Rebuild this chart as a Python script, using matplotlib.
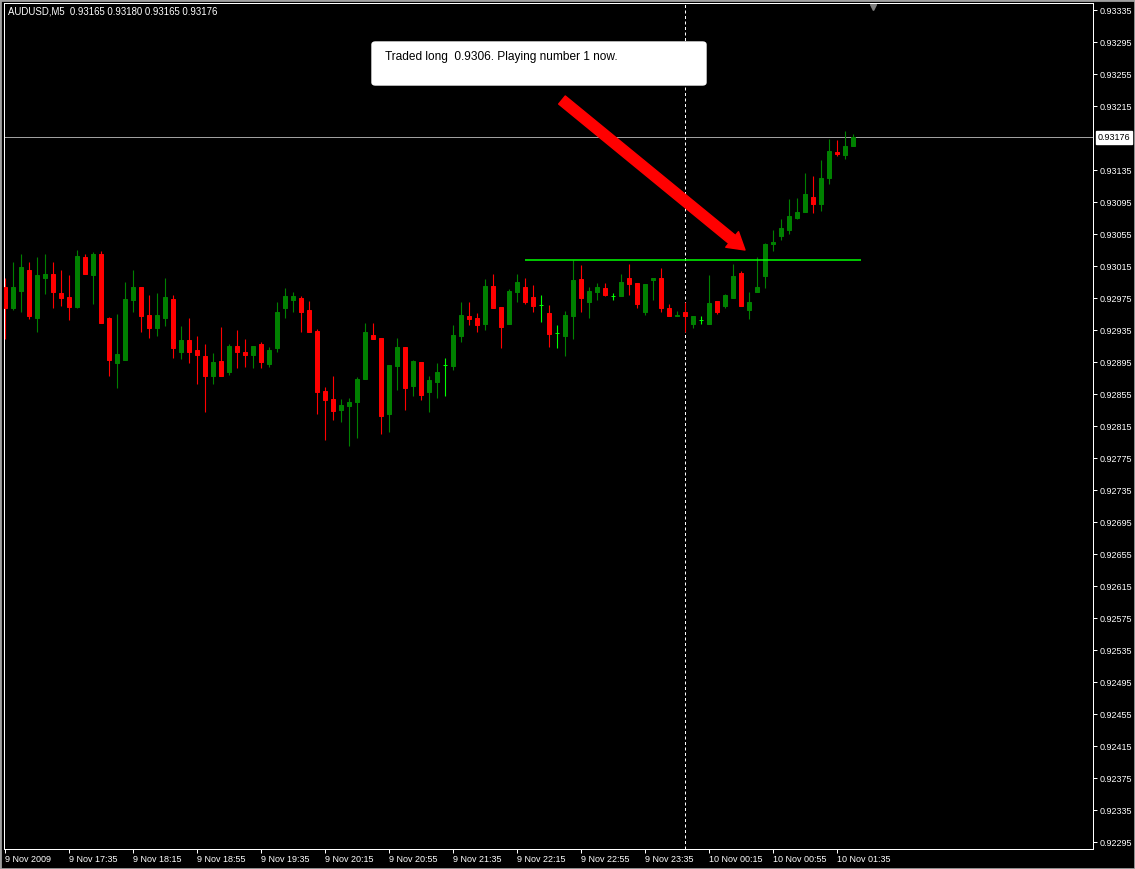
import matplotlib.pyplot as plt
from matplotlib.patches import FancyBboxPatch, Rectangle
from matplotlib.transforms import blended_transform_factory

# AUDUSD M5, 9 Nov 2009 16:55 .. 10 Nov 01:45
opens = [0.92989, 0.92963, 0.92984, 0.93010, 0.92950, 0.93000, 0.93005, 0.92981, 0.92976, 0.92964,
         0.93026, 0.93004, 0.93030, 0.92950, 0.92894, 0.92898, 0.92973, 0.92989, 0.92954, 0.92938,
         0.92950, 0.92974, 0.92907, 0.92923, 0.92910, 0.92903, 0.92878, 0.92896, 0.92882, 0.92915,
         0.92908, 0.92904, 0.92918, 0.92893, 0.92913, 0.92962, 0.92973, 0.92975, 0.92960, 0.92934,
         0.92859, 0.92849, 0.92835, 0.92840, 0.92845, 0.92874, 0.92929, 0.92925, 0.92830, 0.92890,
         0.92914, 0.92865, 0.92895, 0.92858, 0.92870, 0.92891, 0.92890, 0.92928, 0.92953, 0.92950,
         0.92942, 0.92990, 0.92964, 0.92942, 0.92983, 0.92989, 0.92976, 0.92966, 0.92956, 0.92931,
         0.92928, 0.92952, 0.92999, 0.92970, 0.92983, 0.92988, 0.92978, 0.92978, 0.93000, 0.92994,
         0.92958, 0.92997, 0.93000, 0.92963, 0.92953, 0.92958, 0.92942, 0.92947, 0.92942, 0.92971,
         0.92965, 0.92975, 0.93006, 0.92960, 0.92983, 0.93003, 0.93043, 0.93053, 0.93060, 0.93075,
         0.93083, 0.93101, 0.93092, 0.93125, 0.93158, 0.93154, 0.93165]
highs = [0.93000, 0.93020, 0.93030, 0.93020, 0.93026, 0.93030, 0.93020, 0.93010, 0.93004, 0.93035,
         0.93030, 0.93032, 0.93034, 0.92951, 0.92955, 0.92995, 0.93010, 0.92989, 0.92979, 0.92981,
         0.93000, 0.92979, 0.92940, 0.92950, 0.92928, 0.92918, 0.92906, 0.92939, 0.92918, 0.92935,
         0.92924, 0.92915, 0.92920, 0.92914, 0.92970, 0.92988, 0.92983, 0.92978, 0.92971, 0.92936,
         0.92864, 0.92878, 0.92849, 0.92850, 0.92876, 0.92944, 0.92944, 0.92925, 0.92891, 0.92925,
         0.92914, 0.92897, 0.92895, 0.92878, 0.92894, 0.92900, 0.92941, 0.92970, 0.92970, 0.92956,
         0.92999, 0.93005, 0.92964, 0.92986, 0.93005, 0.93000, 0.92991, 0.92979, 0.92966, 0.92941,
         0.92959, 0.93022, 0.93016, 0.92989, 0.92994, 0.92994, 0.92981, 0.93005, 0.93018, 0.92994,
         0.92993, 0.93000, 0.93013, 0.92968, 0.92959, 0.92970, 0.92953, 0.92952, 0.93004, 0.92971,
         0.92980, 0.93018, 0.93009, 0.92983, 0.93026, 0.93044, 0.93060, 0.93074, 0.93099, 0.93100,
         0.93131, 0.93128, 0.93148, 0.93174, 0.93173, 0.93184, 0.93180]
lows = [0.92924, 0.92960, 0.92958, 0.92949, 0.92932, 0.92980, 0.92963, 0.92965, 0.92948, 0.92963,
        0.93005, 0.92967, 0.92944, 0.92877, 0.92863, 0.92898, 0.92958, 0.92933, 0.92925, 0.92928,
        0.92940, 0.92900, 0.92899, 0.92894, 0.92867, 0.92832, 0.92867, 0.92877, 0.92879, 0.92887,
        0.92889, 0.92887, 0.92887, 0.92889, 0.92907, 0.92950, 0.92958, 0.92932, 0.92932, 0.92830,
        0.92798, 0.92822, 0.92820, 0.92790, 0.92800, 0.92874, 0.92924, 0.92805, 0.92807, 0.92860,
        0.92835, 0.92852, 0.92847, 0.92832, 0.92850, 0.92853, 0.92885, 0.92920, 0.92941, 0.92932,
        0.92935, 0.92963, 0.92912, 0.92942, 0.92970, 0.92967, 0.92957, 0.92945, 0.92914, 0.92913,
        0.92902, 0.92924, 0.92958, 0.92950, 0.92973, 0.92977, 0.92973, 0.92978, 0.92979, 0.92963,
        0.92954, 0.92973, 0.92957, 0.92952, 0.92953, 0.92932, 0.92937, 0.92942, 0.92942, 0.92955,
        0.92963, 0.92975, 0.92965, 0.92949, 0.92983, 0.92988, 0.93034, 0.93048, 0.93055, 0.93074,
        0.93082, 0.93081, 0.93084, 0.93118, 0.93152, 0.93149, 0.93165]
closes = [0.92963, 0.92989, 0.93014, 0.92953, 0.93004, 0.93005, 0.92983, 0.92975, 0.92964, 0.93027,
          0.93005, 0.93030, 0.92944, 0.92898, 0.92905, 0.92974, 0.92989, 0.92953, 0.92938, 0.92954,
          0.92976, 0.92912, 0.92923, 0.92907, 0.92904, 0.92877, 0.92895, 0.92877, 0.92915, 0.92907,
          0.92904, 0.92915, 0.92895, 0.92910, 0.92958, 0.92978, 0.92978, 0.92958, 0.92932, 0.92858,
          0.92848, 0.92834, 0.92841, 0.92845, 0.92874, 0.92932, 0.92924, 0.92828, 0.92891, 0.92914,
          0.92863, 0.92896, 0.92854, 0.92873, 0.92883, 0.92891, 0.92929, 0.92954, 0.92949, 0.92941,
          0.92990, 0.92963, 0.92939, 0.92984, 0.92995, 0.92970, 0.92965, 0.92966, 0.92930, 0.92931,
          0.92954, 0.92998, 0.92975, 0.92984, 0.92989, 0.92979, 0.92978, 0.92995, 0.92992, 0.92967,
          0.92993, 0.93000, 0.92962, 0.92952, 0.92954, 0.92952, 0.92953, 0.92947, 0.92969, 0.92958,
          0.92979, 0.93003, 0.92965, 0.92970, 0.92989, 0.93043, 0.93045, 0.93062, 0.93078, 0.93083,
          0.93105, 0.93092, 0.93125, 0.93159, 0.93155, 0.93165, 0.93176]

time_labels = ['9 Nov 2009', '9 Nov 17:35', '9 Nov 18:15', '9 Nov 18:55', '9 Nov 19:35',
               '9 Nov 20:15', '9 Nov 20:55', '9 Nov 21:35', '9 Nov 22:15', '9 Nov 22:55',
               '9 Nov 23:35', '10 Nov 00:15', '10 Nov 00:55', '10 Nov 01:35']
price_ticks = [0.92295, 0.92335, 0.92375, 0.92415, 0.92455, 0.92495, 0.92535, 0.92575, 0.92615,
               0.92655, 0.92695, 0.92735, 0.92775, 0.92815, 0.92855, 0.92895, 0.92935, 0.92975,
               0.93015, 0.93055, 0.93095, 0.93135, 0.93175, 0.93215, 0.93255, 0.93295, 0.93335]
# 0.93175 is replaced by the bid label on the real chart, drop it
price_ticks.remove(0.93175)

bid = 0.93176
entry_level = 0.93022
entry_start, entry_end = 64.94, 106.94
day_sep = 85
arrow_from = (69.56, 0.932225)
arrow_to = (92.44, 0.93035)
note = 'Traded long  0.9306. Playing number 1 now.'
header = 'AUDUSD,M5  0.93165 0.93180 0.93165 0.93176'

W, H = 1135, 869
font = {'family': 'Liberation Sans', 'size': 6.5}

fig = plt.figure(figsize=(W / 100, H / 100), dpi=100, facecolor='black')
ax = fig.add_axes([4 / W, 1 - 849 / H, (1093 - 4) / W, (849 - 3) / H], facecolor='black')

x = list(range(len(opens)))
colors = []
for o, c in zip(opens, closes):
    if c > o:
        colors.append('#008000')
    elif c < o:
        colors.append('#ff0000')
    else:
        colors.append('#00ff00')
bottoms = [min(o, c) for o, c in zip(opens, closes)]
heights = [abs(c - o) for o, c in zip(opens, closes)]

ax.vlines(x, lows, highs, colors=colors, linewidth=0.8, zorder=2)
ax.bar(x, heights, bottom=bottoms, width=0.5, color=colors, edgecolor=colors, linewidth=0.72, zorder=3)

ax.axhline(bid, color='#a0a0a0', linewidth=0.72, zorder=1)
ax.hlines(entry_level, entry_start, entry_end, color='#00ff00', linewidth=1.1, zorder=4)
ax.axvline(day_sep, color='white', linewidth=0.72, linestyle=(0, (3, 2.5)), zorder=1)

ax.annotate('', xy=arrow_to, xytext=arrow_from,
            arrowprops=dict(arrowstyle='simple,head_length=1.2,head_width=1.45,tail_width=0.75',
                            color='#ff0000', shrinkA=0, shrinkB=0), zorder=5)

ax.set_xlim(-0.1875, 135.94)
ax.set_ylim(0.9228625, 0.9334375)

for s in ax.spines.values():
    s.set_color('white')
    s.set_linewidth(0.72)

ax.set_xticks(list(range(0, len(time_labels) * 8, 8)))
ax.set_xticklabels(time_labels, ha='left', fontdict=font)
ax.yaxis.tick_right()
ax.set_yticks(price_ticks)
ax.set_yticklabels(['%.5f' % p for p in price_ticks], fontdict=font)
ax.tick_params(axis='both', direction='out', length=3, width=0.72, color='white', labelcolor='white')
ax.tick_params(axis='x', pad=1.5)
ax.tick_params(axis='y', pad=2)

tr = blended_transform_factory(ax.transAxes, ax.transData)
ax.text(1.0045, bid, '%.5f' % bid, transform=tr, color='black', va='center', ha='left',
        fontdict=font, bbox=dict(boxstyle='square,pad=0.2', fc='white', ec='white'), clip_on=False)

ax.plot([(873 - 4) / 1089], [1 - 4 / 846], marker='v', color='#808080', markersize=4,
        transform=ax.transAxes, clip_on=False)

fig.add_artist(FancyBboxPatch((372 / W, 1 - 85 / H), 334 / W, 43 / H,
                              boxstyle='round,pad=0,rounding_size=0.003',
                              transform=fig.transFigure, fc='white', ec='white'))
fig.text(385 / W, 1 - 57 / H, note, color='black', va='center', family='Liberation Sans', size=8.6)
fig.text(8 / W, 1 - 12 / H, header, color='white', va='center', family='Liberation Sans', size=6.9)

fig.add_artist(Rectangle((0, 0), 1, 1, transform=fig.transFigure, fill=False,
                         ec='#a0a0a0', linewidth=2))

plt.savefig('out.png', dpi=100, facecolor='black')
